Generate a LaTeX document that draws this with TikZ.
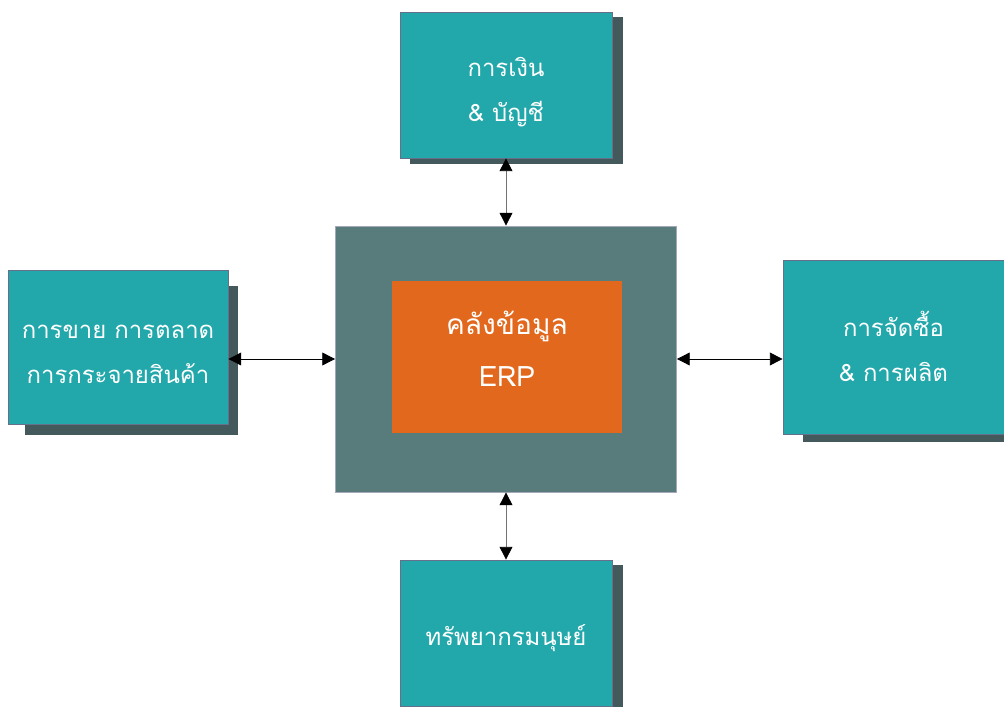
\documentclass[tikz,border=0pt]{standalone}
\usepackage{fontspec}
\newfontfamily\thaifont[Script=Thai]{Loma}
\usetikzlibrary{arrows.meta, positioning, shadows}
\definecolor{tealbox}{HTML}{22A7AA}
\definecolor{shadowslate}{HTML}{44595C}
\definecolor{hubgray}{HTML}{587B7C}
\definecolor{erporange}{HTML}{E2681E}
\definecolor{edgeslate}{HTML}{66708A}

\begin{document}
\begin{tikzpicture}[x=0.025cm, y=-0.025cm,
  module/.style={rectangle, draw=edgeslate, line width=0.5pt, fill=tealbox, inner sep=0pt, drop shadow={shadow xshift=0.25cm, shadow yshift=-0.14cm, #1, fill=shadowslate, draw=shadowslate, opacity=1}},
  module/.default={},
  modtext/.style={text=white, align=center, inner sep=0pt, font=\thaifont\fontsize{17}{32}\selectfont},
  hub/.style={rectangle, draw=edgeslate!60, line width=0.5pt, fill=hubgray, minimum width=8.525cm, minimum height=6.65cm},
  core/.style={rectangle, fill=erporange, minimum width=5.75cm, minimum height=3.8cm},
  coretext/.style={text=white, align=center, inner sep=0pt, font=\thaifont\fontsize{20}{37}\selectfont},
  link/.style={{Triangle[length=3.2mm, width=3.2mm, black]}-{Triangle[length=3.2mm, width=3.2mm, black]}, line width=0.6pt}
]
  \useasboundingbox (0,0) rectangle (1004,707);
  \clip (0,0) rectangle (1004,707);

  \node[hub] (hub) at (506,359) {};
  \node[core, label={[coretext, yshift=0.2cm]center:คลังข้อมูล\\ERP}] (erp) at (507,357) {};

  \node[module, minimum width=5.3cm, minimum height=3.65cm,
    label={[modtext, yshift=-0.175cm]center:การเงิน\\\& บัญชี}] (finance) at (506,85) {};
  \node[module={shadow scale=0.96, shadow xshift=0.35cm, shadow yshift=-0.35cm}, minimum width=5.5cm, minimum height=3.85cm,
    label={[modtext, yshift=-0.175cm]center:การขาย การตลาด\\การกระจายสินค้า}] (sales) at (118,347) {};
  \node[module={shadow xshift=0.5cm, shadow yshift=-0.175cm}, minimum width=5.525cm, minimum height=4.35cm,
    label={[modtext, yshift=0.025cm]center:การจัดซื้อ\\\& การผลิต}] (purchase) at (893.5,347) {};
  \node[module, minimum width=5.3cm, minimum height=3.65cm,
    label={[modtext, yshift=-0.125cm]center:ทรัพยากรมนุษย์}] (hr) at (506,633) {};

  \draw[link, draw=black!55] (finance) -- (hub);
  \draw[link, draw=black!55] (hub) -- (hr);
  \draw[link] (hub.west -| sales.east) -- (hub.west);
  \draw[link] (hub.east) -- (hub.east -| purchase.west);
\end{tikzpicture}
\end{document}
